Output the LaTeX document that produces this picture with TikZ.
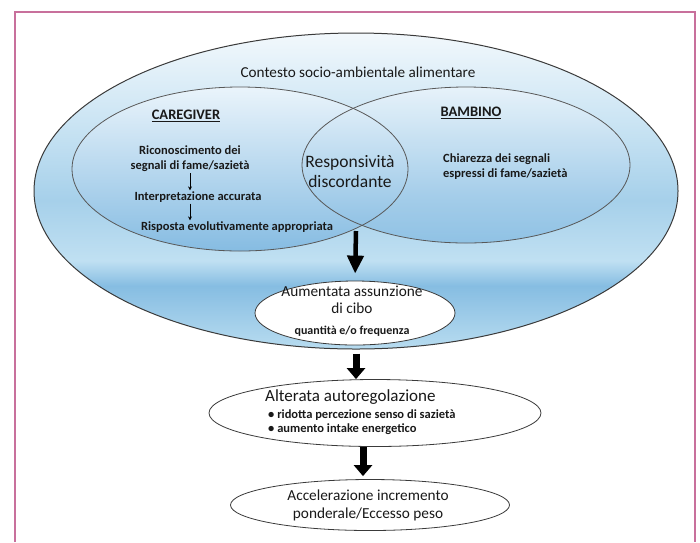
\documentclass[tikz,border=0pt]{standalone}
\usepackage{fontspec}
\setmainfont{Carlito}
\usetikzlibrary{arrows.meta}
\usetikzlibrary{positioning}
\usetikzlibrary{shapes.geometric}

\definecolor{framepink}{HTML}{C8709C}
\definecolor{edgegrey}{HTML}{3A3A3A}
\definecolor{skytop}{HTML}{F2F8FC}
\definecolor{skypale}{HTML}{C8E3F3}
\definecolor{skymid}{HTML}{A6D0EA}
\definecolor{skyband}{HTML}{C0E0F2}
\definecolor{skydeep}{HTML}{86BDE2}
\definecolor{skylow}{HTML}{B8DCF0}
\definecolor{innertop}{HTML}{EAF4FB}
\definecolor{innerlow}{HTML}{86BCE2}

% banded blue of the outer context
\pgfdeclareverticalshading{contextshade}{100bp}{
  color(0bp)=(skylow); color(25bp)=(skylow); color(35bp)=(skydeep);
  color(39bp)=(skyband); color(48.5bp)=(skymid); color(60bp)=(skypale);
  color(75bp)=(skytop); color(100bp)=(skytop)}
% plain blue fade of caregiver and child
\pgfdeclareverticalshading{actorshade}{100bp}{
  color(0bp)=(innerlow); color(25bp)=(innerlow);
  color(75bp)=(innertop); color(100bp)=(innertop)}

\tikzset {
  frame/.style = {
    draw = framepink,
    line width = 1.2pt
  },
  % outer context ellipse
  context/.style = {
    ellipse,
    shading = contextshade,
    draw = edgegrey,
    line width = 1pt,
    inner sep = 0,
    minimum width = 644,
    minimum height = 316
  },
  % caregiver / child sets
  actor/.style = {
    ellipse,
    shading = actorshade,
    inner sep = 0
  },
  actor edge/.style = {
    draw = edgegrey!85,
    line width = .8pt
  },
  % white result ellipses
  outcome/.style = {
    ellipse,
    draw = edgegrey,
    fill = white,
    line width = .8pt,
    inner sep = 0
  },
  txt/.style = {
    text = black!90,
    inner sep = 1pt,
    align = center
  },
  title/.style = {txt, font = \fontsize{15.2}{18}\selectfont},
  head/.style = {txt, font = \fontsize{14.5}{17}\selectfont\bfseries},
  note/.style = {txt, font = \fontsize{12.5}{15}\selectfont\bfseries},
  big note/.style = {txt, font = \fontsize{17.5}{20}\selectfont},
  % thin arrows inside caregiver
  small arr/.style = {
    draw = black,
    line width = .8pt,
    -{Stealth[length=4pt, width=4pt]}
  },
  % thick arrows between stages
  big arr/.style = {
    draw = black,
    line width = 4.5pt,
    -{Triangle[length=18pt, width=16pt]}
  },
  fat arr/.style = {
    draw = black,
    line width = 7pt,
    -{Triangle[length=11pt, width=18pt]}
  }
}

\begin{document}
\begin{tikzpicture}[x=1pt, y=-1pt]
  \useasboundingbox (0,0) rectangle (700,542);
  \draw[frame] (15,542) -- (15,12) -- (695,12) -- (695,542);

  \node[context] (context) at (356,191) {};
  \node[actor, minimum width=336, minimum height=164] (caregiver) at (240,169) {};
  \node[actor, minimum width=328, minimum height=156, fill opacity=.8] (bambino) at (466,165) {};
  \draw[actor edge] (caregiver.center) ellipse [x radius=168, y radius=82];
  \draw[actor edge] (bambino.center) ellipse [x radius=164, y radius=78];

  \node[title] (context-title) at (358,72) {Contesto socio-ambientale alimentare};
  \node[head] (caregiver-head) at (186,116) {\underline{CAREGIVER}};
  \node[head] (bambino-head) at (471,113) {\underline{BAMBINO}};

  \node[note] (recognition) at (190,159) {Riconoscimento dei\\segnali di fame/sazietà};
  \node[note] (interpretation) at (198,197) {Interpretazione accurata};
  \node[note] (response) at (237,227) {Risposta evolutivamente appropriata};
  \node[note, align=left, anchor=west] (clarity) at (442,167) {Chiarezza dei segnali\\espressi di fame/sazietà};
  \node[big note] (discordance) at (350,172) {Responsività\\discordante};
  \coordinate (lens-bottom) at (356,231);

  \draw[small arr] (recognition.south) -- (recognition.south |- interpretation.north);
  \draw[small arr] (recognition.south |- interpretation.south) -- (recognition.south |- response.north);

  \node[outcome, minimum width=200, minimum height=64] (intake) at (355,313) {};
  \node[txt, font=\fontsize{15.3}{16.5}\selectfont] (intake-text) at (352,300) {Aumentata assunzione\\di cibo};
  \node[note, font=\fontsize{12}{15}\selectfont\bfseries] (intake-sub) at (352,331) {quantità e/o frequenza};

  \node[outcome, minimum width=332, minimum height=67] (regulation) at (375,413) {};
  \node[txt, anchor=west, font=\fontsize{17}{18}\selectfont] (regulation-text) at (264,397) {Alterata autoregolazione};
  \node[note, align=left, anchor=west, font=\fontsize{12.5}{14.5}\selectfont\bfseries] (regulation-list) at (267,422)
    {• ridotta percezione senso di sazietà\\• aumento intake energetico};

  \node[outcome, minimum width=279, minimum height=51] (weight) at (370,505) {};
  \node[txt, font=\fontsize{15.3}{18}\selectfont] (weight-text) at (368,505) {Accelerazione incremento\\ponderale/Eccesso peso};

  \draw[big arr, shorten >=7pt] (lens-bottom) -- (intake.north);
  \draw[fat arr, shorten <=4pt] (context.south) -- (context.south |- regulation.north);
  \draw[fat arr, shorten >=3pt] ([xshift=-7]weight.north |- regulation.south) -- ([xshift=-7]weight.north);
\end{tikzpicture}
\end{document}
